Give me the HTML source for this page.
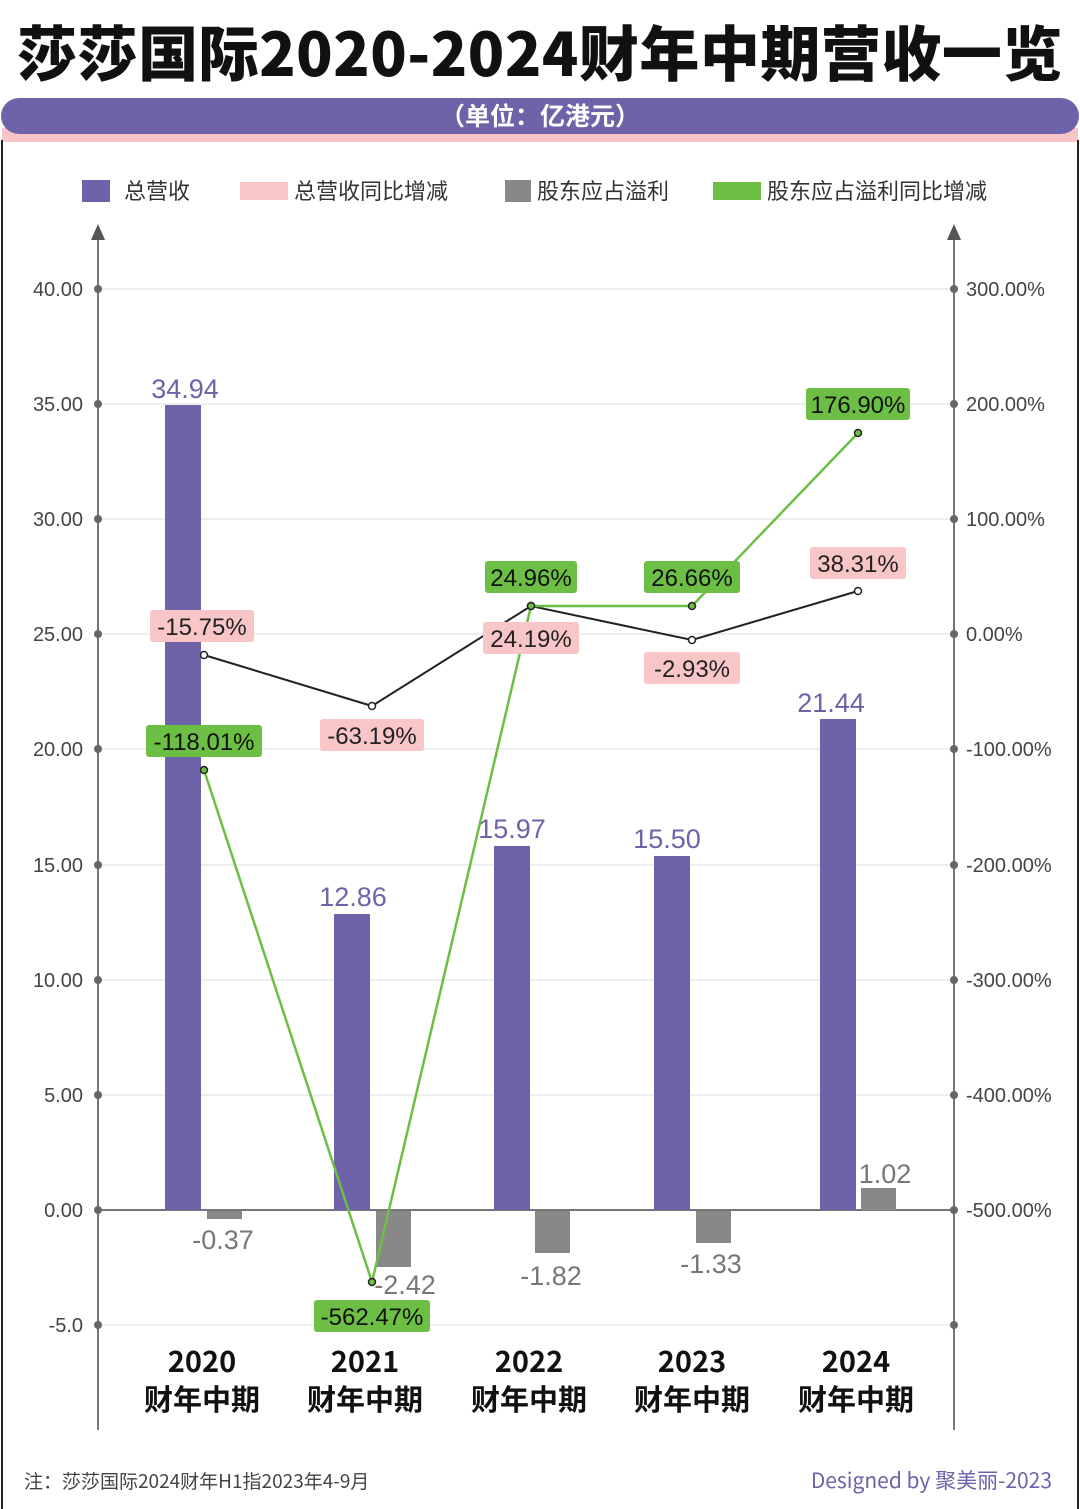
<!DOCTYPE html>
<html><head><meta charset="utf-8"><style>
body{margin:0;background:#fff;}
svg{display:block;font-family:"Liberation Sans","Noto Sans CJK SC",sans-serif;}
</style></head><body>
<svg width="1080" height="1509" viewBox="0 0 1080 1509" xmlns="http://www.w3.org/2000/svg">
<rect width="1080" height="1509" fill="#fff"/>
<text x="540" y="76" text-anchor="middle" font-size="60" font-weight="900" fill="#111" letter-spacing="0.5" font-family="'Noto Sans CJK SC',sans-serif">莎莎国际2020-2024财年中期营收一览</text>
<rect x="2" y="128" width="1076" height="14" fill="#f9c6c8"/>
<path d="M2,1509 V140 M1078,140 V1509" stroke="#222" stroke-width="2"/>
<rect x="1" y="98" width="1078" height="36" rx="18" fill="#6e62a8"/>
<text x="540" y="125" text-anchor="middle" font-size="25" font-weight="bold" fill="#fff" font-family="'Noto Sans CJK SC',sans-serif">（单位：亿港元）</text>
<g font-size="22" fill="#333" font-family="'Noto Sans CJK SC',sans-serif">
<rect x="82" y="180" width="28" height="22" fill="#6e62a8"/><text x="124" y="199">总营收</text>
<rect x="240" y="182" width="48" height="18" fill="#f9c6c8"/><text x="294" y="199">总营收同比增减</text>
<rect x="505" y="180" width="26" height="22" fill="#888"/><text x="537" y="199">股东应占溢利</text>
<rect x="713" y="182" width="48" height="18" fill="#6cbf44"/><text x="767" y="199">股东应占溢利同比增减</text>
</g>
<g stroke="#ddd" stroke-width="1">
<line x1="98" x2="954" y1="289" y2="289"/><line x1="98" x2="954" y1="404" y2="404"/>
<line x1="98" x2="954" y1="519" y2="519"/><line x1="98" x2="954" y1="634" y2="634"/>
<line x1="98" x2="954" y1="749" y2="749"/><line x1="98" x2="954" y1="865" y2="865"/>
<line x1="98" x2="954" y1="980" y2="980"/><line x1="98" x2="954" y1="1095" y2="1095"/>
<line x1="98" x2="954" y1="1325" y2="1325"/>
</g>
<g stroke="#777" stroke-width="2">
<line x1="98" y1="232" x2="98" y2="1430"/><line x1="954" y1="232" x2="954" y2="1430"/>
<line x1="98" y1="1210" x2="954" y2="1210"/>
</g>
<polygon points="98,224 91,240 105,240" fill="#555"/><polygon points="954,224 947,240 961,240" fill="#555"/>
<g fill="#666">
<circle cx="98" cy="289" r="4"/><circle cx="98" cy="404" r="4"/><circle cx="98" cy="519" r="4"/><circle cx="98" cy="634" r="4"/><circle cx="98" cy="749" r="4"/><circle cx="98" cy="865" r="4"/><circle cx="98" cy="980" r="4"/><circle cx="98" cy="1095" r="4"/><circle cx="98" cy="1210" r="4"/><circle cx="98" cy="1325" r="4"/>
<circle cx="954" cy="289" r="4"/><circle cx="954" cy="404" r="4"/><circle cx="954" cy="519" r="4"/><circle cx="954" cy="634" r="4"/><circle cx="954" cy="749" r="4"/><circle cx="954" cy="865" r="4"/><circle cx="954" cy="980" r="4"/><circle cx="954" cy="1095" r="4"/><circle cx="954" cy="1210" r="4"/><circle cx="954" cy="1325" r="4"/>
</g>
<g font-size="20" fill="#444" text-anchor="end">
<text x="83" y="296">40.00</text><text x="83" y="411">35.00</text><text x="83" y="526">30.00</text><text x="83" y="641">25.00</text><text x="83" y="756">20.00</text><text x="83" y="872">15.00</text><text x="83" y="987">10.00</text><text x="83" y="1102">5.00</text><text x="83" y="1217">0.00</text><text x="83" y="1332">-5.0</text>
</g>
<g font-size="20" fill="#444">
<text x="966" y="296">300.00%</text><text x="966" y="411">200.00%</text><text x="966" y="526">100.00%</text><text x="966" y="641">0.00%</text><text x="966" y="756">-100.00%</text><text x="966" y="872">-200.00%</text><text x="966" y="987">-300.00%</text><text x="966" y="1102">-400.00%</text><text x="966" y="1217">-500.00%</text>
</g>
<g fill="#6e62a8">
<rect x="165" y="405" width="36" height="805"/><rect x="334" y="914" width="36" height="296"/><rect x="494" y="846" width="36" height="364"/><rect x="654" y="856" width="36" height="354"/><rect x="820" y="719" width="36" height="491"/>
</g>
<g fill="#888">
<rect x="207" y="1211" width="35" height="8"/><rect x="376" y="1211" width="35" height="56"/><rect x="535" y="1211" width="35" height="42"/><rect x="696" y="1211" width="35" height="32"/><rect x="861" y="1188" width="35" height="22"/>
</g>
<g font-size="27" fill="#6e62a8" text-anchor="middle">
<text x="185" y="398">34.94</text><text x="353" y="906">12.86</text><text x="512" y="838">15.97</text><text x="667" y="848">15.50</text><text x="831" y="712">21.44</text>
</g>
<g font-size="27" fill="#777" text-anchor="middle">
<text x="223" y="1249">-0.37</text><text x="405" y="1294">-2.42</text><text x="551" y="1285">-1.82</text><text x="711" y="1273">-1.33</text><text x="885" y="1183">1.02</text>
</g>
<polyline points="204,655 372,706 531,606 692,640 858,591" fill="none" stroke="#222" stroke-width="2"/>
<polyline points="204,770 372,1282 531,606 692,606 858,433" fill="none" stroke="#6cbf44" stroke-width="2.5"/>
<g fill="#fff" stroke="#222" stroke-width="1.5">
<circle cx="204" cy="655" r="3.5"/><circle cx="372" cy="706" r="3.5"/><circle cx="531" cy="606" r="3.5"/><circle cx="692" cy="640" r="3.5"/><circle cx="858" cy="591" r="3.5"/>
<circle cx="204" cy="770" r="3.5" fill="#6cbf44"/><circle cx="372" cy="1282" r="3.5" fill="#6cbf44"/><circle cx="531" cy="606" r="3.5" fill="#6cbf44"/><circle cx="692" cy="606" r="3.5" fill="#6cbf44"/><circle cx="858" cy="433" r="3.5" fill="#6cbf44"/>
</g>
<g font-size="24" fill="#222" text-anchor="middle">
<rect x="150" y="610" width="104" height="32" rx="3" fill="#f9c6c8"/><text x="202" y="635">-15.75%</text>
<rect x="320" y="719" width="104" height="32" rx="3" fill="#f9c6c8"/><text x="372" y="744">-63.19%</text>
<rect x="483" y="622" width="96" height="32" rx="3" fill="#f9c6c8"/><text x="531" y="647">24.19%</text>
<rect x="644" y="652" width="96" height="32" rx="3" fill="#f9c6c8"/><text x="692" y="677">-2.93%</text>
<rect x="810" y="547" width="96" height="32" rx="3" fill="#f9c6c8"/><text x="858" y="572">38.31%</text>
</g>
<g font-size="24" fill="#111" text-anchor="middle">
<rect x="146" y="725" width="116" height="32" rx="3" fill="#6cbf44"/><text x="204" y="750">-118.01%</text>
<rect x="314" y="1300" width="116" height="32" rx="3" fill="#6cbf44"/><text x="372" y="1325">-562.47%</text>
<rect x="485" y="561" width="92" height="32" rx="3" fill="#6cbf44"/><text x="531" y="586">24.96%</text>
<rect x="644" y="561" width="96" height="32" rx="3" fill="#6cbf44"/><text x="692" y="586">26.66%</text>
<rect x="806" y="388" width="104" height="32" rx="3" fill="#6cbf44"/><text x="858" y="413">176.90%</text>
</g>
<g font-size="29" font-weight="bold" fill="#111" text-anchor="middle" font-family="'Noto Sans CJK SC',sans-serif">
<text x="202" y="1372">2020</text><text x="202" y="1410">财年中期</text>
<text x="365" y="1372">2021</text><text x="365" y="1410">财年中期</text>
<text x="529" y="1372">2022</text><text x="529" y="1410">财年中期</text>
<text x="692" y="1372">2023</text><text x="692" y="1410">财年中期</text>
<text x="856" y="1372">2024</text><text x="856" y="1410">财年中期</text>
</g>
<text x="24" y="1488" font-size="19" fill="#444" font-family="'Noto Sans CJK SC',sans-serif">注：莎莎国际2024财年H1指2023年4-9月</text>
<text x="1052" y="1488" font-size="21" fill="#6e62a8" text-anchor="end" font-family="'Noto Sans CJK SC',sans-serif">Designed by 聚美丽-2023</text>
</svg>
</body></html>
